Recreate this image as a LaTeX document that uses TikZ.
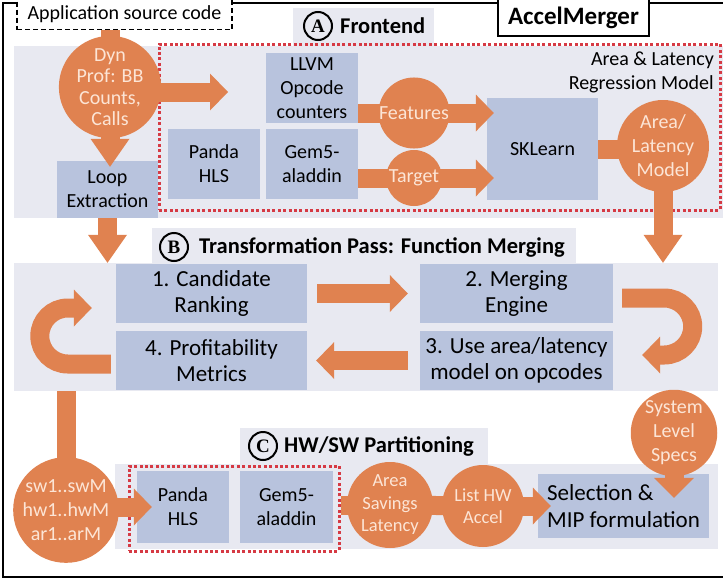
\documentclass[tikz,border=0pt]{standalone}
\usepackage{fontspec}
\setmainfont{Carlito}
\newfontfamily\serifb{Liberation Serif}
\usetikzlibrary{arrows.meta,calc}
\definecolor{org}{HTML}{E08250}
\definecolor{ctext}{HTML}{FCE5D6}
\definecolor{boxc}{HTML}{B8C3DD}
\definecolor{secbg}{HTML}{E8E9F1}
\definecolor{redd}{HTML}{D63A44}
\pgfdeclarelayer{bg}\pgfdeclarelayer{arr}\pgfdeclarelayer{top}
\pgfsetlayers{bg,main,arr,top}
\newcommand\fsbase{\fontsize{20}{24}\selectfont}
\newcommand\fsbig{\fontsize{23}{26.5}\selectfont}
\newcommand\fssmall{\fontsize{18.5}{22.5}\selectfont}
\newcommand\fstitle{\fontsize{22.5}{26}\selectfont\bfseries}
\newcommand\fsletter{\fontsize{19}{20}\selectfont\serifb\bfseries}
\tikzset{
  secbox/.style={rectangle, fill=secbg, inner sep=0pt},
  reddot/.style={rectangle, draw=redd, line width=3pt, dash pattern=on 3pt off 2.4pt, inner sep=0pt},
  box/.style={rectangle, fill=boxc, align=center, font=\fsbase, inner sep=0pt},
  circ/.style={circle, fill=org, text=ctext, align=center, font=\fsbase, inner sep=0pt},
  letterc/.style={circle, draw=black, line width=2pt, minimum size=28pt, inner sep=0pt, font=\fsletter},
  ttl/.style={anchor=west, inner sep=0pt, font=\fstitle},
  band/.style={draw=org, line width=19pt},
  tiph/.style={-{Triangle[length=18pt,width=37pt,line width=0pt]}},
  tipd/.style={-{Triangle[length=28pt,width=39pt,line width=0pt]}},
}
\begin{document}
\begin{tikzpicture}[x=1pt,y=-1pt]
\useasboundingbox (0,0) rectangle (723,581);

\begin{pgfonlayer}{bg}
  \fill[white] (0,0) rectangle (723,581);
  \draw[line width=1.6pt] (3,3) rectangle (730,577);
  \node[secbox, minimum width=712pt, minimum height=172pt] (secA) at (370,132) {};
  \node[secbox, minimum width=141pt, minimum height=39pt] (ttlA) at (363.5,27.5) {};
  \node[secbox, minimum width=704pt, minimum height=128pt] (secB) at (366,327) {};
  \node[secbox, minimum width=424pt, minimum height=36pt] (ttlB) at (364,246) {};
  \node[secbox, minimum width=603pt, minimum height=85pt] (secC) at (416.5,506.5) {};
  \node[secbox, minimum width=248pt, minimum height=37pt] (ttlC) at (364,446.5) {};
  \node[reddot, minimum width=561pt, minimum height=166pt] (redA) at (439.5,127) {};
  \node[reddot, minimum width=210pt, minimum height=85pt] (redC) at (234,508.5) {};
\end{pgfonlayer}

% top boxes
\node[rectangle, draw=black, fill=white, line width=1.2pt, dash pattern=on 5pt off 3pt,
      minimum width=215pt, minimum height=31pt, font=\fsbase] (app) at (124.5,14) {Application source code};
\node[rectangle, draw=black, fill=white, line width=1.5pt, minimum width=151pt, minimum height=37pt,
      font=\fontsize{25}{28}\selectfont\bfseries] (accel) at (573.5,17.5) {AccelMerger};

% section titles
\node[letterc] (lA) at (318,26) {A};
\node[ttl] (tA) at (340,26) {Frontend};
\node[letterc] (lB) at (174,247) {B};
\node[ttl] (tB) at (199,247) {Transformation Pass: Function Merging};
\node[letterc] (lC) at (263,446) {C};
\node[ttl] (tC) at (284,446) {HW/SW Partitioning};

\node[anchor=east, align=right, font=\fsbase, inner sep=0pt] (regm) at (714,72) {Area \& Latency\\Regression Model};

% boxes
\node[box, minimum width=101pt, minimum height=57pt] (loop) at (107.5,189.5) {Loop\\Extraction};
\node[box, minimum width=92pt, minimum height=70pt] (llvm) at (312,88) {LLVM\\Opcode\\counters};
\node[box, minimum width=92pt, minimum height=70pt] (pandaA) at (214,164) {Panda\\HLS};
\node[box, minimum width=92pt, minimum height=70pt] (gemA) at (312,164) {Gem5-\\aladdin};
\node[box, minimum width=111pt, minimum height=102pt] (sk) at (542.5,149) {SKLearn};
\node[box, font=\fsbig, minimum width=191pt, minimum height=59pt] (b1) at (211.5,293.5) {1. Candidate\\Ranking};
\node[box, font=\fsbig, minimum width=191pt, minimum height=59pt] (b4) at (211.5,360.5) {4. Profitability\\Metrics};
\node[box, font=\fsbig, minimum width=193pt, minimum height=59pt] (b2) at (516.5,293.5) {2. Merging\\Engine};
\node[box, font=\fsbig, minimum width=193pt, minimum height=59pt] (b3) at (516.5,360.5) {3. Use area/latency\\model on opcodes};
\node[box, minimum width=92pt, minimum height=72pt] (pandaC) at (183,507) {Panda\\HLS};
\node[box, minimum width=93pt, minimum height=72pt] (gemC) at (286.5,507) {Gem5-\\aladdin};
\node[box, font=\fsbig, align=left, minimum width=171pt, minimum height=64pt] (sel) at (623.5,506) {Selection \&\\MIP formulation};

% circles
\begin{pgfonlayer}{top}
  \node[circ, font=\fontsize{20}{21.5}\selectfont, minimum size=94pt] (dyn) at (110,87) {Dyn\\Prof: BB\\Counts,\\Calls};
  \node[circ, minimum size=56pt] (feat) at (414,113) {Features};
  \node[circ, minimum size=56pt] (tgt) at (414,178) {Target};
  \node[circ, minimum size=92pt] (alm) at (663,146) {Area/\\Latency\\Model};
  \node[circ, minimum size=102pt] (sw) at (66,510) {sw1..swM\\hw1..hwM\\ar1..arM};
  \node[circ, font=\fssmall, minimum size=86pt] (asv) at (390,505) {Area\\Savings\\Latency};
  \node[circ, font=\fssmall, minimum size=82pt] (lst) at (483,506) {List HW\\Accel};
  \node[circ, minimum size=86pt] (sys) at (674,433) {System\\Level\\Specs};
\end{pgfonlayer}

\coordinate (dynR) at (228,92);

\begin{pgfonlayer}{arr}
  \draw[band] (dyn.center |- app.south) -- (dyn.center);
  \draw[band, tiph] (dyn.center |- dynR) -- (dynR);
  \draw[band, tipd, shorten >=-6pt] (dyn.center) -- (dyn.center |- loop.north);
  \draw[band, tiph, shorten >=-7pt] (llvm.east |- feat) -- (sk.west |- feat);
  \draw[band, tiph, shorten >=-7pt] (gemA.east |- tgt) -- (sk.west |- tgt);
  \draw[band] (sk.east) -- (sk.east -| alm.center);
  \draw[band, tipd] (alm.center) -- (alm.center |- secB.north);
  \draw[band, tipd] (loop.south) -- (loop.south |- secB.north);
  \draw[band, tiph] ($(b1.east)+(10,0)$) -- ($(b2.west)+(-12,0)$);
  \draw[band, tiph] ($(b3.west)+(-12,0)$) -- ($(b4.east)+(9,0)$);
  \draw[band, tiph] ($(b2.east)+(9,4.5)$) -- ++(42,0) arc(-90:90:28.5) -- ++(-22,0);
  \draw[band, tiph] ($(b4.west)+(-5,3.5)$) -- ++(-43,0) arc(90:270:28) -- ++(24,0);
  \draw[band] (sw.center |- secB.south) -- (sw.center);
  \draw[band, tiph, shorten >=-15pt] (sw.center |- pandaC.west) -- (pandaC.west);
  \draw[band] (redC.east |- asv) -- (asv.center);
  \draw[band] (asv.center) -- (lst.center);
  \draw[band, tiph, shorten >=-13pt] (lst.center) -- (sel.west |- lst.center);
  \draw[band, -{Triangle[length=20pt,width=40pt,line width=0pt]}, shorten >=-24pt] (sys.center) -- (sys.center |- sel.north);
\end{pgfonlayer}
\end{tikzpicture}
\end{document}
